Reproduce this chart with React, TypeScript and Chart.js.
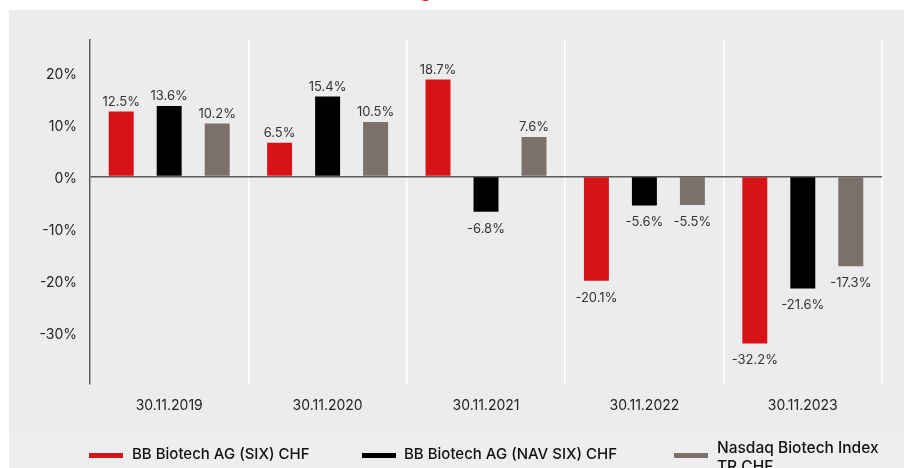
import React, { useEffect, useRef } from "react";
import { Chart, registerables } from "chart.js";

Chart.register(...registerables);

const categories = ["30.11.2019", "30.11.2020", "30.11.2021", "30.11.2022", "30.11.2023"];
const seriesNames = ["BB Biotech AG (SIX) CHF", "BB Biotech AG (NAV SIX) CHF", "Nasdaq Biotech Index TR CHF"];
const sixValues = [12.5, 6.5, 18.7, -20.1, -32.2];
const navValues = [13.6, 15.4, -6.8, -5.6, -21.6];
const nasdaqValues = [10.2, 10.5, 7.6, -5.5, -17.3];
const yTicks = [-30, -20, -10, 0, 10, 20];
const colors = ["#d71317", "#000000", "#7c706b"];

const FONT = "Inter, 'Noto Sans', sans-serif";

const labelPlugin = {
  id: "barLabels",
  afterDatasetsDraw(chart: any) {
    const ctx = chart.ctx;
    ctx.save();
    ctx.font = `13px ${FONT}`;
    ctx.fillStyle = "#333333";
    ctx.textAlign = "center";
    ctx.textBaseline = "middle";
    chart.data.datasets.forEach((ds: any, di: number) => {
      const meta = chart.getDatasetMeta(di);
      meta.data.forEach((bar: any, i: number) => {
        const v = ds.data[i] as number;
        const txt = `${v.toFixed(1)}%`;
        const y = v >= 0 ? bar.y - 9.5 : bar.y + 17;
        ctx.fillText(txt, bar.x, y);
      });
    });
    const ys = chart.scales.y;
    ctx.font = `14px ${FONT}`;
    ctx.fillStyle = "#222222";
    ctx.textAlign = "right";
    yTicks.forEach((t) => {
      ctx.fillText(`${t}%`, chart.chartArea.left - 13, ys.getPixelForValue(t) + 2.5);
    });
    ctx.restore();
  },
};

export default function App() {
  const ref = useRef<HTMLCanvasElement | null>(null);

  useEffect(() => {
    if (!ref.current) return;
    const chart = new Chart(ref.current, {
      type: "bar",
      data: {
        labels: categories,
        datasets: [sixValues, navValues, nasdaqValues].map((d, i) => ({
          label: seriesNames[i],
          data: d,
          backgroundColor: colors[i],
          borderWidth: 0,
          categoryPercentage: 0.909,
          barPercentage: 0.52,
        })),
      },
      options: {
        animation: false,
        responsive: false,
        layout: { padding: { left: 0, top: 40, right: 22, bottom: 44 } },
        plugins: {
          legend: { display: false },
          tooltip: { enabled: false },
          title: { display: false },
        },
        scales: {
          x: {
            offset: true,
            grid: { display: true, color: "#ffffff", lineWidth: 1.5, drawTicks: false, offset: true },
            border: { display: false },
            ticks: { color: "#222222", font: { family: FONT, size: 14 }, padding: 13 },
            afterFit: (s: any) => {
              s.height = 40;
            },
          },
          y: {
            min: -40,
            max: 26.3,
            afterBuildTicks: (s: any) => {
              s.ticks = yTicks.map((v) => ({ value: v }));
            },
            afterFit: (s: any) => {
              s.width = 90;
            },
            grid: {
              drawTicks: false,
              color: (c: any) => (c.tick && c.tick.value === 0 ? "#5a5a5a" : "rgba(0,0,0,0)"),
              lineWidth: 1.5,
            },
            border: { display: true, color: "#5a5a5a", width: 1.5 },
            ticks: { display: false },
          },
        },
      },
      plugins: [labelPlugin],
    });
    return () => chart.destroy();
  }, []);

  const legendText: React.CSSProperties = {
    position: "absolute",
    fontFamily: FONT,
    fontSize: 15,
    fontWeight: 500,
    color: "#111111",
    lineHeight: "19px",
    whiteSpace: "nowrap",
  };

  return (
    <div
      style={{
        position: "fixed",
        left: 0,
        top: 0,
        width: 904,
        height: 468,
        background: "#ffffff",
        overflow: "hidden",
      }}
    >
      <span
        style={{
          position: "absolute",
          left: 419,
          top: -20,
          fontFamily: FONT,
          fontSize: 20,
          lineHeight: "20px",
          color: colors[0],
          fontWeight: 600,
        }}
      >
        g
      </span>
      <div style={{ position: "absolute", left: 9, top: 10, right: 0, bottom: 0, background: "#ececec" }} />
      <div style={{ position: "absolute", left: 9, top: 434, right: 0, bottom: 0, background: "#eeeeee", borderTop: "1px solid #f3f3f3" }} />
      <canvas ref={ref} width={904} height={468} style={{ position: "absolute", left: 0, top: 0 }} />

      <div style={{ position: "absolute", left: 89, top: 453, width: 34, height: 5, background: colors[0] }} />
      <div style={{ ...legendText, left: 132, top: 444 }}>{seriesNames[0]}</div>

      <div style={{ position: "absolute", left: 362, top: 453, width: 34, height: 5, background: colors[1] }} />
      <div style={{ ...legendText, left: 404, top: 444 }}>{seriesNames[1]}</div>

      <div style={{ position: "absolute", left: 674, top: 453, width: 34, height: 5, background: colors[2] }} />
      <div style={{ ...legendText, left: 717, top: 438, whiteSpace: "normal", width: 175, fontSize: 15.5 }}>{seriesNames[2]}</div>
    </div>
  );
}
